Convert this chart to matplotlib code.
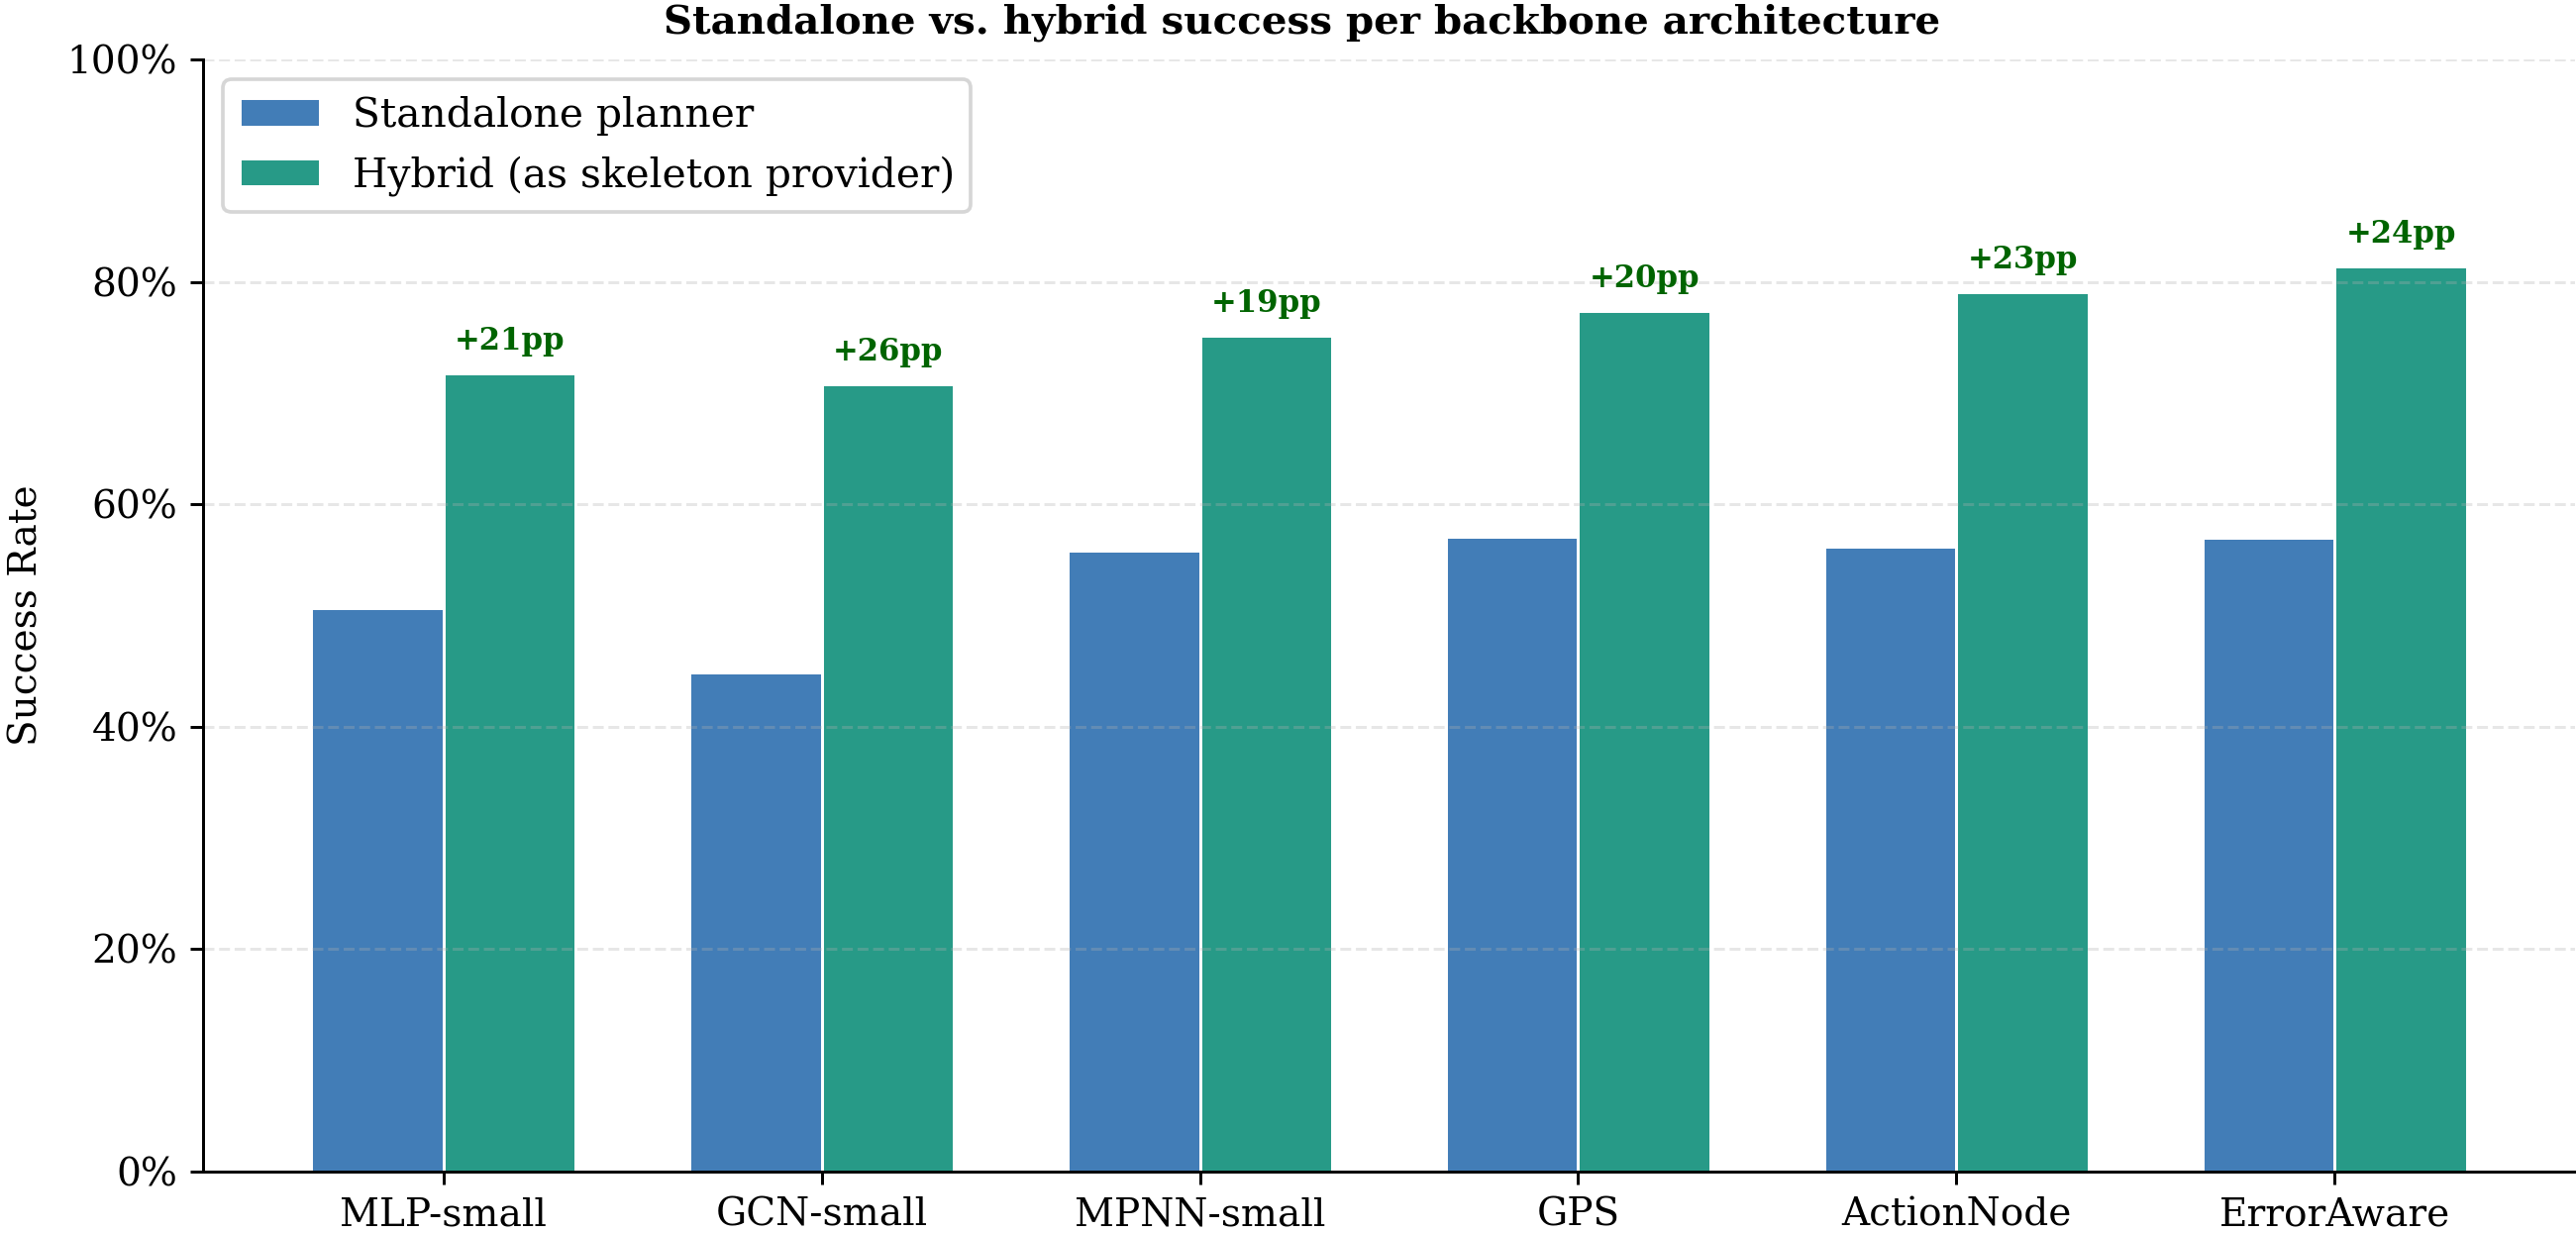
import matplotlib
matplotlib.use("Agg")
import matplotlib.pyplot as plt
import numpy as np
from matplotlib.ticker import PercentFormatter

backbones = ["MLP-small", "GCN-small", "MPNN-small", "GPS", "ActionNode", "ErrorAware"]
standalone = [0.507, 0.449, 0.558, 0.571, 0.562, 0.570]
hybrid = [0.718, 0.708, 0.752, 0.774, 0.791, 0.814]

plt.rcParams["font.family"] = "DejaVu Serif"

fig = plt.figure(figsize=(2601 / 267, 1245 / 267), dpi=267)
ax = fig.add_axes([205 / 2601, 62 / 1245, 2395 / 2601, 1123 / 1245])

x = np.arange(len(backbones))
w = 0.35
ax.bar(x - w / 2, standalone, w, color="#427db7", edgecolor="white",
       linewidth=0.8, label="Standalone planner")
ax.bar(x + w / 2, hybrid, w, color="#279a87", edgecolor="white",
       linewidth=0.8, label="Hybrid (as skeleton provider)")

for xi, s, h in zip(x, standalone, hybrid):
    ax.text(xi + w / 2, h + 0.015, f"+{(h - s) * 100:.0f}pp", ha="center",
            va="bottom", fontsize=8.3, fontweight="bold", color="darkgreen")

ax.set_xticks(x)
ax.set_xticklabels(backbones, fontsize=10.5)
ax.set_ylim(0, 1.0)
ax.set_yticks(np.arange(0, 1.01, 0.2))
ax.yaxis.set_major_formatter(PercentFormatter(1.0, decimals=0))
ax.tick_params(axis="y", labelsize=10.5)
ax.set_ylabel("Success Rate", fontsize=10.5, labelpad=6)
ax.grid(axis="y", linestyle="--", alpha=0.3)
ax.spines["top"].set_visible(False)
ax.spines["right"].set_visible(False)
ax.legend(loc="upper left", fontsize=11)

fig.text(0.5054, 0.9727, "Standalone vs. hybrid success per backbone architecture",
         ha="center", va="baseline", fontsize=10.9, fontweight="bold")

fig.savefig("out.png", dpi=267)
